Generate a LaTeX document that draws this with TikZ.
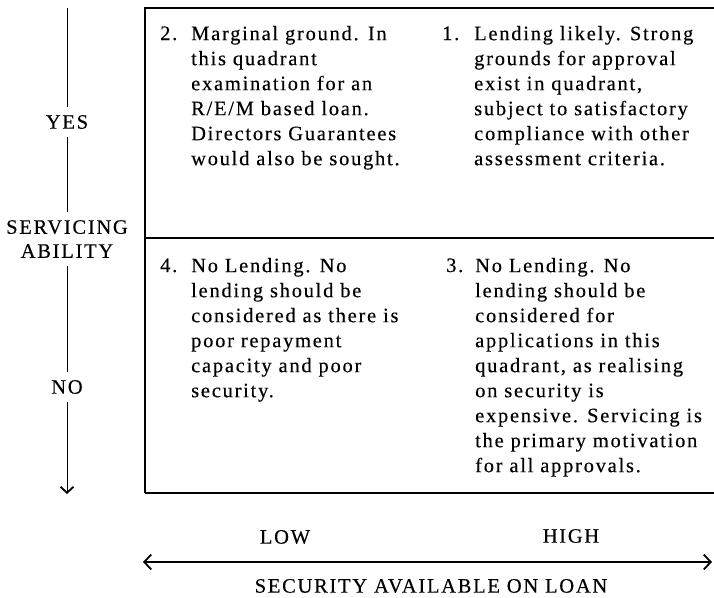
\documentclass[tikz,border=0pt]{standalone}
\usepackage{fontspec}
\setmainfont{Liberation Serif}[LetterSpace=8.5,FakeBold=0.3]
\usetikzlibrary{arrows.meta}
\begin{document}
\begin{tikzpicture}[x=1pt,y=-1pt,
  body/.style={font=\fontsize{20.5}{25}\selectfont, inner sep=0pt, align=left, anchor=north west},
  num/.style={font=\fontsize{20.5}{25}\selectfont, inner sep=0pt, anchor=base west},
  lbl/.style={font=\fontsize{20.5}{24}\selectfont, inner xsep=0pt, inner ysep=8pt},
  frame/.style={line width=1.1pt},
  heavy/.style={line width=1.7pt},
  vline/.style={line width=0.9pt},
  barb/.tip={Straight Barb[length=6pt,width=13pt,line width=1.8pt]},
  hbarb/.tip={Straight Barb[length=7pt,width=15pt,line width=1.8pt]}
  ]
\useasboundingbox (0,0) rectangle (714,597);

% grid frame
\coordinate (tl) at (145,8);
\coordinate (tr) at (714,8);
\coordinate (ml) at (145,238);
\coordinate (mr) at (714,238);
\coordinate (bl) at (145,493);
\coordinate (br) at (714,493);
\draw[frame] (tr) -- (tl) -- (bl);
\draw[heavy] (ml) -- (mr);
\draw[heavy] (bl) -- (br);

% vertical axis
\coordinate (vtop) at (67,8);
\coordinate (vbot) at (67,494);
\node[lbl] (yes) at (67,122) {YES};
\node[lbl,align=center] (serv) at (67,239) {SERVICING\\ABILITY};
\node[lbl] (no) at (67,387) {NO};
\draw[vline] (vtop) -- (yes);
\draw[vline] (yes) -- (serv);
\draw[vline] (serv) -- (no);
\draw[vline,-barb] (no) -- (vbot);

% horizontal axis
\node[lbl] (low) at (285,537) {LOW};
\node[lbl] (high) at (571,536) {HIGH};
\coordinate (hl) at (143,562);
\coordinate (hr) at (712,562);
\draw[heavy,hbarb-hbarb] (hl) -- (hr);
\node[lbl] (sec) at (431,586) {SECURITY AVAILABLE ON LOAN};

% quadrant 2
\node[num] (n2) at (160,40) {2.};
\node[body] (q2) at (191,25) {\rule{0pt}{15pt}Marginal ground. In\\
this quadrant\\
examination for an\\
R/E/M based loan.\\
Directors Guarantees\\
would also be sought.};

% quadrant 1
\node[num] (n1) at (442,40) {1.};
\node[body] (q1) at (474,25) {\rule{0pt}{15pt}Lending likely. Strong\\
grounds for approval\\
exist in quadrant,\\
subject to satisfactory\\
compliance with other\\
assessment criteria.};

% quadrant 4
\node[num] (n4) at (160,272) {4.};
\node[body] (q4) at (191,257) {\rule{0pt}{15pt}No Lending. No\\
lending should be\\
considered as there is\\
poor repayment\\
capacity and poor\\
security.};

% quadrant 3
\node[num] (n3) at (446,272) {3.};
\node[body] (q3) at (475,257) {\rule{0pt}{15pt}No Lending. No\\
lending should be\\
considered for\\
applications in this\\
quadrant, as realising\\
on security is\\
expensive. Servicing is\\
the primary motivation\\
for all approvals.};
\end{tikzpicture}
\end{document}
